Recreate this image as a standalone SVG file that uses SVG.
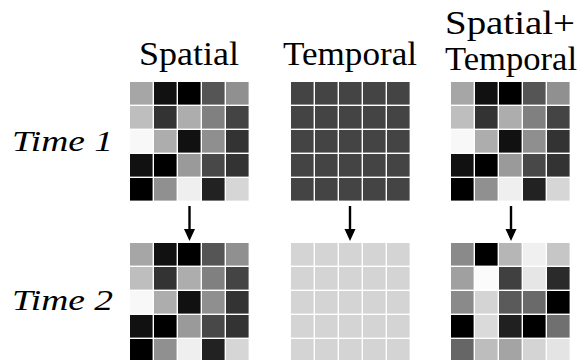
<svg xmlns="http://www.w3.org/2000/svg" width="583" height="360" viewBox="0 0 583 360">
<defs>
<style>
.lbl{font-family:'Liberation Serif','DejaVu Serif',serif;font-size:33px;fill:#000}
.it{font-family:'Liberation Serif','DejaVu Serif',serif;font-size:30px;font-style:italic;fill:#000}
.arr{stroke:#000;stroke-width:2.4;fill:none}
.head{fill:#000}
</style>
<g id="cell"><rect width="22.6" height="22.6"/></g>
</defs>
<rect width="583" height="360" fill="#fff"/>
<text class="lbl" x="139" y="65" textLength="100" lengthAdjust="spacingAndGlyphs">Spatial</text>
<text class="lbl" x="283" y="65" textLength="134" lengthAdjust="spacingAndGlyphs">Temporal</text>
<text class="lbl" x="445" y="34" textLength="130" lengthAdjust="spacingAndGlyphs">Spatial+</text>
<text class="lbl" x="445" y="70" textLength="132" lengthAdjust="spacingAndGlyphs">Temporal</text>
<text class="it" x="12" y="151" textLength="101" lengthAdjust="spacingAndGlyphs">Time 1</text>
<text class="it" x="12" y="310" textLength="101" lengthAdjust="spacingAndGlyphs">Time 2</text>
<g id="spatial-t1" transform="translate(130,82)">
<use href="#cell" x="0" y="0" fill="#a6a6a6"/><use href="#cell" x="24" y="0" fill="#111"/><use href="#cell" x="48" y="0" fill="#000"/><use href="#cell" x="72" y="0" fill="#555"/><use href="#cell" x="96" y="0" fill="#909090"/>
<use href="#cell" x="0" y="24" fill="#bebebe"/><use href="#cell" x="24" y="24" fill="#333"/><use href="#cell" x="48" y="24" fill="#adadad"/><use href="#cell" x="72" y="24" fill="#808080"/><use href="#cell" x="96" y="24" fill="#444"/>
<use href="#cell" x="0" y="48" fill="#f8f8f8"/><use href="#cell" x="24" y="48" fill="#adadad"/><use href="#cell" x="48" y="48" fill="#111"/><use href="#cell" x="72" y="48" fill="#8f8f8f"/><use href="#cell" x="96" y="48" fill="#333"/>
<use href="#cell" x="0" y="72" fill="#111"/><use href="#cell" x="24" y="72" fill="#000"/><use href="#cell" x="48" y="72" fill="#9a9a9a"/><use href="#cell" x="72" y="72" fill="#484848"/><use href="#cell" x="96" y="72" fill="#333"/>
<use href="#cell" x="0" y="96" fill="#000"/><use href="#cell" x="24" y="96" fill="#909090"/><use href="#cell" x="48" y="96" fill="#efefef"/><use href="#cell" x="72" y="96" fill="#222"/><use href="#cell" x="96" y="96" fill="#d6d6d6"/>
</g>
<g id="temporal-t1" transform="translate(291,82)" fill="#444">
<use href="#cell" x="0" y="0"/><use href="#cell" x="24" y="0"/><use href="#cell" x="48" y="0"/><use href="#cell" x="72" y="0"/><use href="#cell" x="96" y="0"/>
<use href="#cell" x="0" y="24"/><use href="#cell" x="24" y="24"/><use href="#cell" x="48" y="24"/><use href="#cell" x="72" y="24"/><use href="#cell" x="96" y="24"/>
<use href="#cell" x="0" y="48"/><use href="#cell" x="24" y="48"/><use href="#cell" x="48" y="48"/><use href="#cell" x="72" y="48"/><use href="#cell" x="96" y="48"/>
<use href="#cell" x="0" y="72"/><use href="#cell" x="24" y="72"/><use href="#cell" x="48" y="72"/><use href="#cell" x="72" y="72"/><use href="#cell" x="96" y="72"/>
<use href="#cell" x="0" y="96"/><use href="#cell" x="24" y="96"/><use href="#cell" x="48" y="96"/><use href="#cell" x="72" y="96"/><use href="#cell" x="96" y="96"/>
</g>
<g id="st-t1" transform="translate(451,82)">
<use href="#cell" x="0" y="0" fill="#a6a6a6"/><use href="#cell" x="24" y="0" fill="#111"/><use href="#cell" x="48" y="0" fill="#000"/><use href="#cell" x="72" y="0" fill="#555"/><use href="#cell" x="96" y="0" fill="#909090"/>
<use href="#cell" x="0" y="24" fill="#bebebe"/><use href="#cell" x="24" y="24" fill="#333"/><use href="#cell" x="48" y="24" fill="#adadad"/><use href="#cell" x="72" y="24" fill="#808080"/><use href="#cell" x="96" y="24" fill="#444"/>
<use href="#cell" x="0" y="48" fill="#f8f8f8"/><use href="#cell" x="24" y="48" fill="#adadad"/><use href="#cell" x="48" y="48" fill="#111"/><use href="#cell" x="72" y="48" fill="#8f8f8f"/><use href="#cell" x="96" y="48" fill="#333"/>
<use href="#cell" x="0" y="72" fill="#111"/><use href="#cell" x="24" y="72" fill="#000"/><use href="#cell" x="48" y="72" fill="#9a9a9a"/><use href="#cell" x="72" y="72" fill="#484848"/><use href="#cell" x="96" y="72" fill="#333"/>
<use href="#cell" x="0" y="96" fill="#000"/><use href="#cell" x="24" y="96" fill="#909090"/><use href="#cell" x="48" y="96" fill="#efefef"/><use href="#cell" x="72" y="96" fill="#222"/><use href="#cell" x="96" y="96" fill="#d6d6d6"/>
</g>
<g id="spatial-t2" transform="translate(130,243)">
<use href="#cell" x="0" y="0" fill="#a6a6a6"/><use href="#cell" x="24" y="0" fill="#111"/><use href="#cell" x="48" y="0" fill="#000"/><use href="#cell" x="72" y="0" fill="#555"/><use href="#cell" x="96" y="0" fill="#909090"/>
<use href="#cell" x="0" y="24" fill="#bebebe"/><use href="#cell" x="24" y="24" fill="#333"/><use href="#cell" x="48" y="24" fill="#adadad"/><use href="#cell" x="72" y="24" fill="#808080"/><use href="#cell" x="96" y="24" fill="#444"/>
<use href="#cell" x="0" y="48" fill="#f8f8f8"/><use href="#cell" x="24" y="48" fill="#adadad"/><use href="#cell" x="48" y="48" fill="#111"/><use href="#cell" x="72" y="48" fill="#8f8f8f"/><use href="#cell" x="96" y="48" fill="#333"/>
<use href="#cell" x="0" y="72" fill="#111"/><use href="#cell" x="24" y="72" fill="#000"/><use href="#cell" x="48" y="72" fill="#9a9a9a"/><use href="#cell" x="72" y="72" fill="#484848"/><use href="#cell" x="96" y="72" fill="#333"/>
<use href="#cell" x="0" y="96" fill="#000"/><use href="#cell" x="24" y="96" fill="#909090"/><use href="#cell" x="48" y="96" fill="#efefef"/><use href="#cell" x="72" y="96" fill="#222"/><use href="#cell" x="96" y="96" fill="#d6d6d6"/>
</g>
<g id="temporal-t2" transform="translate(291,243)" fill="#d4d4d4">
<use href="#cell" x="0" y="0"/><use href="#cell" x="24" y="0"/><use href="#cell" x="48" y="0"/><use href="#cell" x="72" y="0"/><use href="#cell" x="96" y="0"/>
<use href="#cell" x="0" y="24"/><use href="#cell" x="24" y="24"/><use href="#cell" x="48" y="24"/><use href="#cell" x="72" y="24"/><use href="#cell" x="96" y="24"/>
<use href="#cell" x="0" y="48"/><use href="#cell" x="24" y="48"/><use href="#cell" x="48" y="48"/><use href="#cell" x="72" y="48"/><use href="#cell" x="96" y="48"/>
<use href="#cell" x="0" y="72"/><use href="#cell" x="24" y="72"/><use href="#cell" x="48" y="72"/><use href="#cell" x="72" y="72"/><use href="#cell" x="96" y="72"/>
<use href="#cell" x="0" y="96"/><use href="#cell" x="24" y="96"/><use href="#cell" x="48" y="96"/><use href="#cell" x="72" y="96"/><use href="#cell" x="96" y="96"/>
</g>
<g id="st-t2" transform="translate(451,243)">
<use href="#cell" x="0" y="0" fill="#8a8a8a"/><use href="#cell" x="24" y="0" fill="#000"/><use href="#cell" x="48" y="0" fill="#b6b6b6"/><use href="#cell" x="72" y="0" fill="#f0f0f0"/><use href="#cell" x="96" y="0" fill="#c6c6c6"/>
<use href="#cell" x="0" y="24" fill="#a0a0a0"/><use href="#cell" x="24" y="24" fill="#fbfbfb"/><use href="#cell" x="48" y="24" fill="#404040"/><use href="#cell" x="72" y="24" fill="#e6e6e6"/><use href="#cell" x="96" y="24" fill="#2a2a2a"/>
<use href="#cell" x="0" y="48" fill="#8a8a8a"/><use href="#cell" x="24" y="48" fill="#d4d4d4"/><use href="#cell" x="48" y="48" fill="#5a5a5a"/><use href="#cell" x="72" y="48" fill="#6a6a6a"/><use href="#cell" x="96" y="48" fill="#000"/>
<use href="#cell" x="0" y="72" fill="#000"/><use href="#cell" x="24" y="72" fill="#dadada"/><use href="#cell" x="48" y="72" fill="#202020"/><use href="#cell" x="72" y="72" fill="#000"/><use href="#cell" x="96" y="72" fill="#707070"/>
<use href="#cell" x="0" y="96" fill="#666"/><use href="#cell" x="24" y="96" fill="#bdbdbd"/><use href="#cell" x="48" y="96" fill="#a4a4a4"/><use href="#cell" x="72" y="96" fill="#d4d4d4"/><use href="#cell" x="96" y="96" fill="#e4e4e4"/>
</g>
<g id="connectors">
<line class="arr" x1="189.5" y1="206" x2="189.5" y2="230"/><path class="head" d="M184,229 L195,229 L189.5,241 z"/>
<line class="arr" x1="350" y1="206" x2="350" y2="230"/><path class="head" d="M344.5,229 L355.5,229 L350,241 z"/>
<line class="arr" x1="511" y1="206" x2="511" y2="230"/><path class="head" d="M505.5,229 L516.5,229 L511,241 z"/>
</g>
</svg>
